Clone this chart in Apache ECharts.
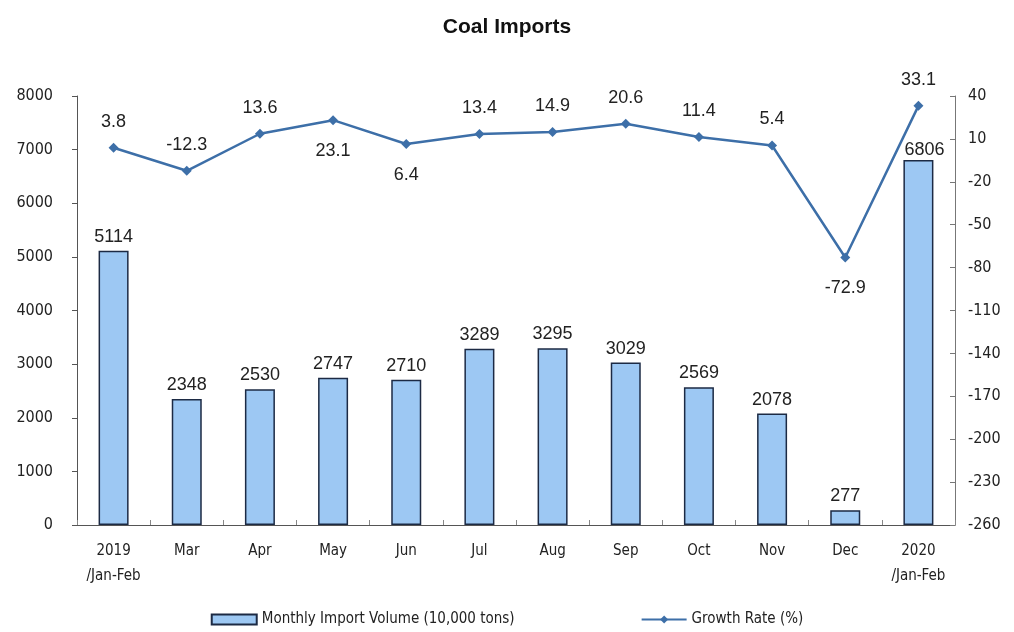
<!DOCTYPE html>
<html>
<head>
<meta charset="utf-8">
<script src="https://cdn.jsdelivr.net/npm/echarts@6/dist/echarts.min.js"></script>
<style>
html,body{margin:0;padding:0;background:#fff;}
#chart{width:1014px;height:632px;}
</style>
</head>
<body>
<div id="chart"></div>
<script>
var categories = ['2019\n/Jan-Feb','Mar','Apr','May','Jun','Jul','Aug','Sep','Oct','Nov','Dec','2020\n/Jan-Feb'];
var importVolume = [5114, 2348, 2530, 2747, 2710, 3289, 3295, 3029, 2569, 2078, 277, 6806];
var growthRate = [3.8, -12.3, 13.6, 23.1, 6.4, 13.4, 14.9, 20.6, 11.4, 5.4, -72.9, 33.1];
var growthLabelPos = ['top','top','top','bottom','bottom','top','top','top','top','top','bottom','top'];
var leftTicks = {min: 0, max: 8000, interval: 1000};
var rightTicks = {min: -260, max: 40, interval: 30};

var narrow = '"DejaVu Sans Condensed", "Liberation Sans Narrow", "Liberation Sans", Arial, sans-serif';
var sans = '"Liberation Sans", Arial, sans-serif';
var chart = echarts.init(document.getElementById('chart'));
chart.setOption({
  animation: false,
  backgroundColor: '#fff',
  title: {
    text: 'Coal Imports', left: 'center', top: 12,
    textStyle: {fontFamily: sans, fontSize: 21, fontWeight: 'bold', color: '#111'}
  },
  legend: {
    top: 610, left: 'center', padding: [2, 5], itemGap: 126, itemWidth: 45, itemHeight: 10,
    textStyle: {fontFamily: narrow, fontSize: 15, color: '#222'},
    data: [
      {name: 'Monthly Import Volume (10,000 tons)', icon: 'rect'},
      {name: 'Growth Rate (%)'}
    ]
  },
  grid: {left: 77, right: 59, top: 96, bottom: 107},
  xAxis: {
    type: 'category', data: categories,
    axisLine: {lineStyle: {color: '#555', width: 1}},
    axisTick: {show: true, inside: true, length: 5, lineStyle: {color: '#888'}},
    axisLabel: {fontFamily: narrow, fontSize: 15, color: '#222', margin: 14, lineHeight: 25}
  },
  yAxis: [
    {
      type: 'value', min: leftTicks.min, max: leftTicks.max, interval: leftTicks.interval,
      splitLine: {show: false},
      axisLine: {show: true, lineStyle: {color: '#555'}},
      axisTick: {show: true, length: 5, lineStyle: {color: '#555'}},
      axisLabel: {fontFamily: narrow, fontSize: 16, color: '#222', margin: 24, formatter: function(v){ return String(v); }}
    },
    {
      type: 'value', min: rightTicks.min, max: rightTicks.max, interval: rightTicks.interval,
      splitLine: {show: false},
      axisLine: {show: true, lineStyle: {color: '#777'}},
      axisTick: {show: true, inside: true, length: 5, lineStyle: {color: '#777'}},
      axisLabel: {fontFamily: narrow, fontSize: 16, color: '#222', margin: 13}
    }
  ],
  series: [
    {
      name: 'Monthly Import Volume (10,000 tons)', type: 'bar', yAxisIndex: 0,
      data: importVolume.map(function(v, i){
        return i === importVolume.length - 1 ? {value: v, label: {offset: [6, 4]}} : v;
      }),
      barWidth: 30,
      itemStyle: {color: '#9dc8f3', borderColor: '#1c2a44', borderWidth: 1.5},
      label: {show: true, position: 'top', distance: 5, fontFamily: sans, fontSize: 18, color: '#222'}
    },
    {
      name: 'Growth Rate (%)', type: 'line', yAxisIndex: 1,
      data: growthRate.map(function(v, i){
        var pos = growthLabelPos[i];
        return {value: v, label: {position: pos, distance: pos === 'bottom' ? 17 : 12}};
      }),
      symbol: 'diamond', symbolSize: 10,
      lineStyle: {color: '#3d6fa8', width: 2.5},
      itemStyle: {color: '#3d6fa8'},
      label: {show: true, fontFamily: sans, fontSize: 18, color: '#222'}
    }
  ]
});
</script>
</body>
</html>
